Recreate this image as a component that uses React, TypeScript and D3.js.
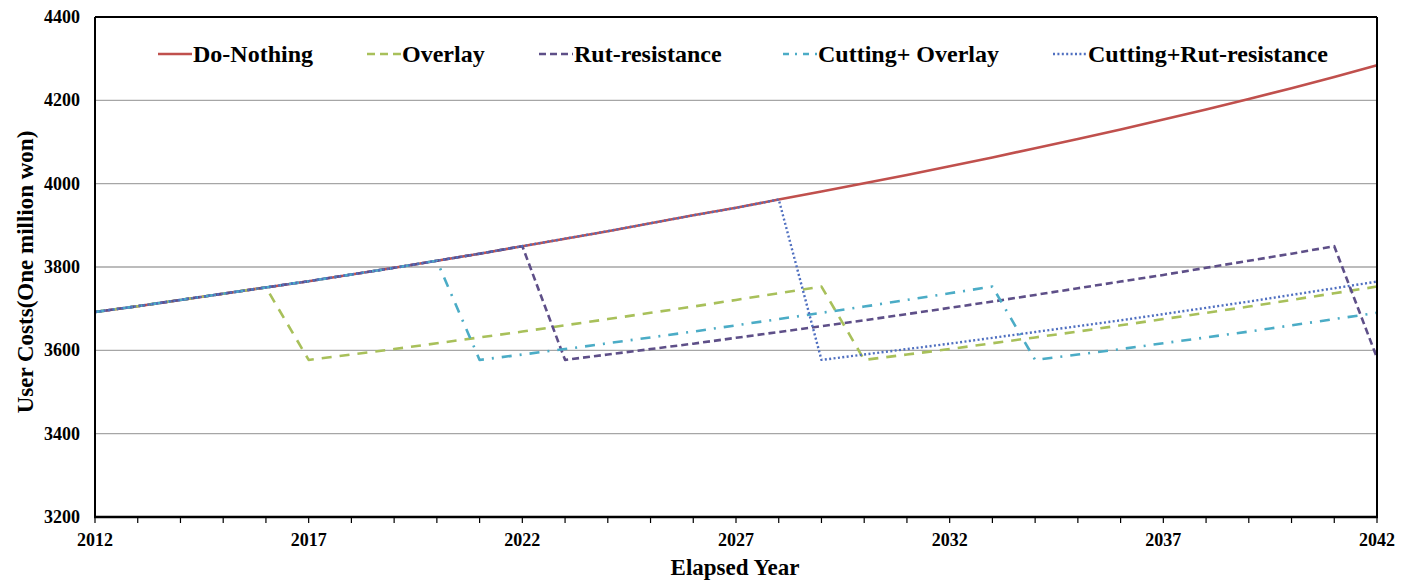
import React from "react";
import * as d3 from "d3";

const years: number[] = d3.range(2012, 2043);
const xTickLabels: number[] = [2012, 2017, 2022, 2027, 2032, 2037, 2042];
const yTicks: number[] = [3200, 3400, 3600, 3800, 4000, 4200, 4400];

const doNothing = [3692, 3706, 3721, 3736, 3751, 3766, 3782, 3798, 3815, 3832, 3850, 3868, 3886, 3905, 3924, 3942, 3962, 3981, 4001, 4021, 4042, 4063, 4085, 4107, 4130, 4154, 4178, 4203, 4229, 4256, 4284];
const overlay = [3692, 3706, 3721, 3736, 3751, 3577, 3590, 3603, 3617, 3631, 3645, 3660, 3675, 3690, 3705, 3721, 3737, 3753, 3577, 3590, 3603, 3617, 3631, 3645, 3660, 3675, 3690, 3705, 3721, 3737, 3753];
const rutResistance = [3692, 3706, 3721, 3736, 3751, 3766, 3782, 3798, 3815, 3832, 3850, 3577, 3590, 3603, 3616, 3630, 3644, 3658, 3672, 3687, 3702, 3717, 3733, 3749, 3765, 3781, 3798, 3815, 3832, 3850, 3582];
const cuttingOverlay = [3692, 3706, 3721, 3736, 3751, 3766, 3782, 3798, 3815, 3577, 3590, 3603, 3617, 3631, 3645, 3660, 3675, 3690, 3705, 3721, 3737, 3753, 3577, 3590, 3603, 3617, 3631, 3645, 3660, 3675, 3690];
const cuttingRut = [3692, 3706, 3721, 3736, 3751, 3766, 3782, 3798, 3815, 3832, 3850, 3868, 3886, 3905, 3924, 3942, 3962, 3577, 3590, 3603, 3616, 3630, 3644, 3658, 3672, 3687, 3702, 3717, 3733, 3749, 3765];

const seriesNames = ["Do-Nothing", "Overlay", "Rut-resistance", "Cutting+ Overlay", "Cutting+Rut-resistance"];
const seriesValues = [doNothing, overlay, rutResistance, cuttingOverlay, cuttingRut];

const styles = [
  { color: "#C0504D", dash: "", legendDash: "", width: 2.6 },
  { color: "#A8C05A", dash: "10 8", legendDash: "8 5", width: 2.6 },
  { color: "#5E4F88", dash: "7 4", legendDash: "7 4", width: 2.6 },
  { color: "#4BACC6", dash: "10 8 2 8", legendDash: "6 6 2 6", width: 2.6 },
  { color: "#4F6FC0", dash: "2 2.4", legendDash: "2 2.4", width: 2.4 },
];

const legendX = [158, 367, 539, 783, 1053];

const W = 1412, H = 586;
const L = 95, R = 1377, T = 17, B = 517;
const font = "'Liberation Serif', 'Times New Roman', serif";

export default function App() {
  const x = d3.scaleLinear().domain([2012, 2042]).range([L, R]);
  const y = d3.scaleLinear().domain([3200, 4400]).range([B, T]);
  const line = d3.line<number>().x((_, i) => x(years[i])).y((v) => y(v));

  return (
    <svg width={W} height={H} style={{ position: "absolute", left: 0, top: 0, background: "#fff" }}>
      <rect x={0} y={0} width={W} height={H} fill="#fff" />
      {yTicks.filter((t) => t > 3200 && t < 4400).map((t) => (
        <line key={t} x1={L} x2={R} y1={y(t)} y2={y(t)} stroke="#A6A6A6" strokeWidth={1.3} />
      ))}
      {seriesValues.map((vals, i) => (
        <path key={i} d={line(vals) || ""} fill="none" stroke={styles[i].color}
          strokeWidth={styles[i].width} strokeDasharray={styles[i].dash || undefined}
          strokeLinejoin="round" />
      ))}
      <line x1={L} x2={R} y1={T} y2={T} stroke="#000" strokeWidth={2} />
      <line x1={R} x2={R} y1={T} y2={B} stroke="#000" strokeWidth={2} />
      <line x1={L} x2={L} y1={T} y2={B} stroke="#000" strokeWidth={2} />
      <line x1={L - 1} x2={R + 1} y1={B} y2={B} stroke="#000" strokeWidth={2.6} />
      {years.map((yr) => (
        <line key={yr} x1={x(yr)} x2={x(yr)} y1={B} y2={B + 6} stroke="#000" strokeWidth={1.2} />
      ))}
      {xTickLabels.map((yr) => (
        <text key={yr} x={x(yr)} y={546} textAnchor="middle" fontFamily={font} fontWeight="bold" fontSize={18}>{yr}</text>
      ))}
      {yTicks.map((t) => (
        <text key={t} x={80} y={y(t) + 6} textAnchor="end" fontFamily={font} fontWeight="bold" fontSize={18}>{t}</text>
      ))}
      <text x={735} y={575} textAnchor="middle" fontFamily={font} fontWeight="bold" fontSize={23}>Elapsed Year</text>
      <text transform={`translate(33,${272}) rotate(-90)`} textAnchor="middle" fontFamily={font} fontWeight="bold" fontSize={23}>User Costs(One million won)</text>
      {seriesNames.map((name, i) => (
        <g key={name}>
          <line x1={legendX[i]} x2={legendX[i] + 34} y1={54} y2={54} stroke={styles[i].color}
            strokeWidth={styles[i].width} strokeDasharray={styles[i].legendDash || undefined} />
          <text x={legendX[i] + 35} y={62} fontFamily={font} fontWeight="bold" fontSize={24}>{name}</text>
        </g>
      ))}
    </svg>
  );
}
